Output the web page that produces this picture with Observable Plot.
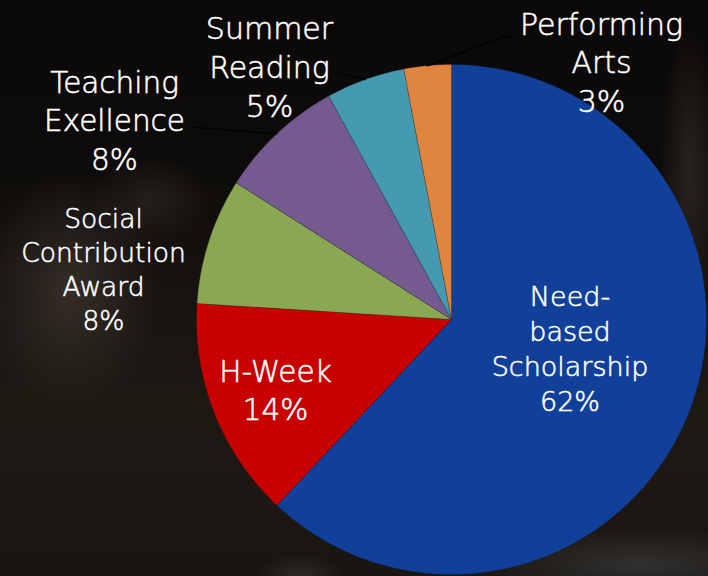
<!DOCTYPE html>
<html>
<head>
<meta charset="utf-8">
<script src="https://cdn.jsdelivr.net/npm/d3@7"></script>
<script src="https://cdn.jsdelivr.net/npm/@observablehq/plot@0.6"></script>
<style>
  html, body { margin: 0; padding: 0; background: #13100d; }
  #chart {
    width: 708px; height: 576px; overflow: hidden;
    background:
      radial-gradient(ellipse 120px 160px at 70px 290px, rgba(72,62,56,0.6), rgba(0,0,0,0) 75%),
      radial-gradient(ellipse 80px 60px at 150px 200px, rgba(60,52,46,0.45), rgba(0,0,0,0) 75%),
      radial-gradient(ellipse 40px 190px at 690px 170px, rgba(62,54,46,0.55), rgba(0,0,0,0) 75%),
      radial-gradient(ellipse 230px 50px at 640px 565px, rgba(70,70,70,0.55), rgba(0,0,0,0) 75%),
      radial-gradient(ellipse 60px 30px at 300px 576px, rgba(60,55,50,0.6), rgba(0,0,0,0) 75%),
      linear-gradient(to bottom, #0b0908 0%, #0e0c0a 30%, #17130f 50%, #1e1913 70%, #1c1712 90%, #181512 100%);
  }
  #chart svg { display: block; }
</style>
</head>
<body>
<div id="chart"></div>
<script>
// ---- data ----
const categories = ["Need-based Scholarship", "H-Week", "Social Contribution Award", "Teaching Exellence", "Summer Reading", "Performing Arts"];
const labelText = ["Need-\nbased\nScholarship", "H-Week", "Social\nContribution\nAward", "Teaching\nExellence", "Summer\nReading", "Performing\nArts"];
const values = [62, 14, 8, 8, 5, 3];
const percentLabels = ["62%", "14%", "8%", "8%", "5%", "3%"];

// ---- styles / layout ----
const colors = ["#11409b", "#c80000", "#8aa852", "#755a8f", "#4599b0", "#df853f"];
const W = 708, H = 576;
const CX = 451, CY = 319, R = 255; // pie centre and radius (px)
// label block centres (px), font size, line height (em)
const labelLayout = [
  {x: 569.5, y: 347, size: 27, lh: 1.3},
  {x: 275, y: 388, size: 29.5, lh: 1.32},
  {x: 103, y: 268, size: 26.5, lh: 1.28},
  {x: 114, y: 118.5, size: 29.5, lh: 1.32},
  {x: 269, y: 65.5, size: 30, lh: 1.3},
  {x: 601, y: 60.5, size: 30, lh: 1.28}
];
// leader line waypoints after leaving the slice edge (px)
const leaderLayout = {
  3: [[193, 127]],
  4: [[339, 73]],
  5: [[503, 36], [514, 36]]
};

const toX = px => (px - CX) / R;
const toY = py => (py - CY) / R;

const arcs = d3.pie().sort(null)(values);

// slice polygons built from the pie angles
const slicePts = [];
arcs.forEach((a, i) => {
  slicePts.push({cat: categories[i], x: 0, y: 0});
  const n = Math.max(2, Math.ceil((a.endAngle - a.startAngle) / (Math.PI / 360)));
  for (let k = 0; k <= n; k++) {
    const t = a.startAngle + (a.endAngle - a.startAngle) * k / n;
    slicePts.push({cat: categories[i], x: Math.sin(t), y: -Math.cos(t)});
  }
});

// leader lines: from slice edge at mid-angle to the label
const leaderPts = [];
Object.entries(leaderLayout).forEach(([i, pts]) => {
  const a = arcs[+i];
  const m = (a.startAngle + a.endAngle) / 2;
  leaderPts.push({cat: categories[i], x: Math.sin(m), y: -Math.cos(m)});
  pts.forEach(([px, py]) => leaderPts.push({cat: categories[i], x: toX(px), y: toY(py)}));
});

const labels = categories.map((c, i) => ({
  cat: c,
  text: labelText[i] + "\n" + percentLabels[i],
  x: toX(labelLayout[i].x),
  y: toY(labelLayout[i].y),
  size: labelLayout[i].size,
  lh: labelLayout[i].lh
}));

const textMarks = labels.map(d => Plot.text([d], {
  x: "x", y: "y", text: "text",
  fill: "#ffffff",
  stroke: "#ffffff", strokeWidth: 0.55,
  fontSize: d.size,
  lineHeight: d.lh,
  textAnchor: "middle",
  lineAnchor: "middle",
  fontFamily: "'DejaVu Sans', sans-serif",
  fontWeight: 200
}));

const chart = Plot.plot({
  width: W, height: H,
  margin: 0,
  x: {domain: [toX(0), toX(W)], range: [0, W], axis: null},
  y: {domain: [toY(0), toY(H)], range: [0, H], axis: null},
  color: {domain: categories, range: colors},
  style: {background: "transparent", overflow: "visible"},
  marks: [
    Plot.line(slicePts, {
      x: "x", y: "y", z: "cat",
      fill: "cat",
      stroke: "#1b1b22", strokeWidth: 0.6, strokeOpacity: 0.45,
      curve: "linear-closed"
    }),
    Plot.line(leaderPts, {
      x: "x", y: "y", z: "cat",
      stroke: "#000", strokeWidth: 1.6, strokeOpacity: 0.85
    }),
    ...textMarks
  ]
});

document.getElementById("chart").appendChild(chart);
</script>
</body>
</html>
